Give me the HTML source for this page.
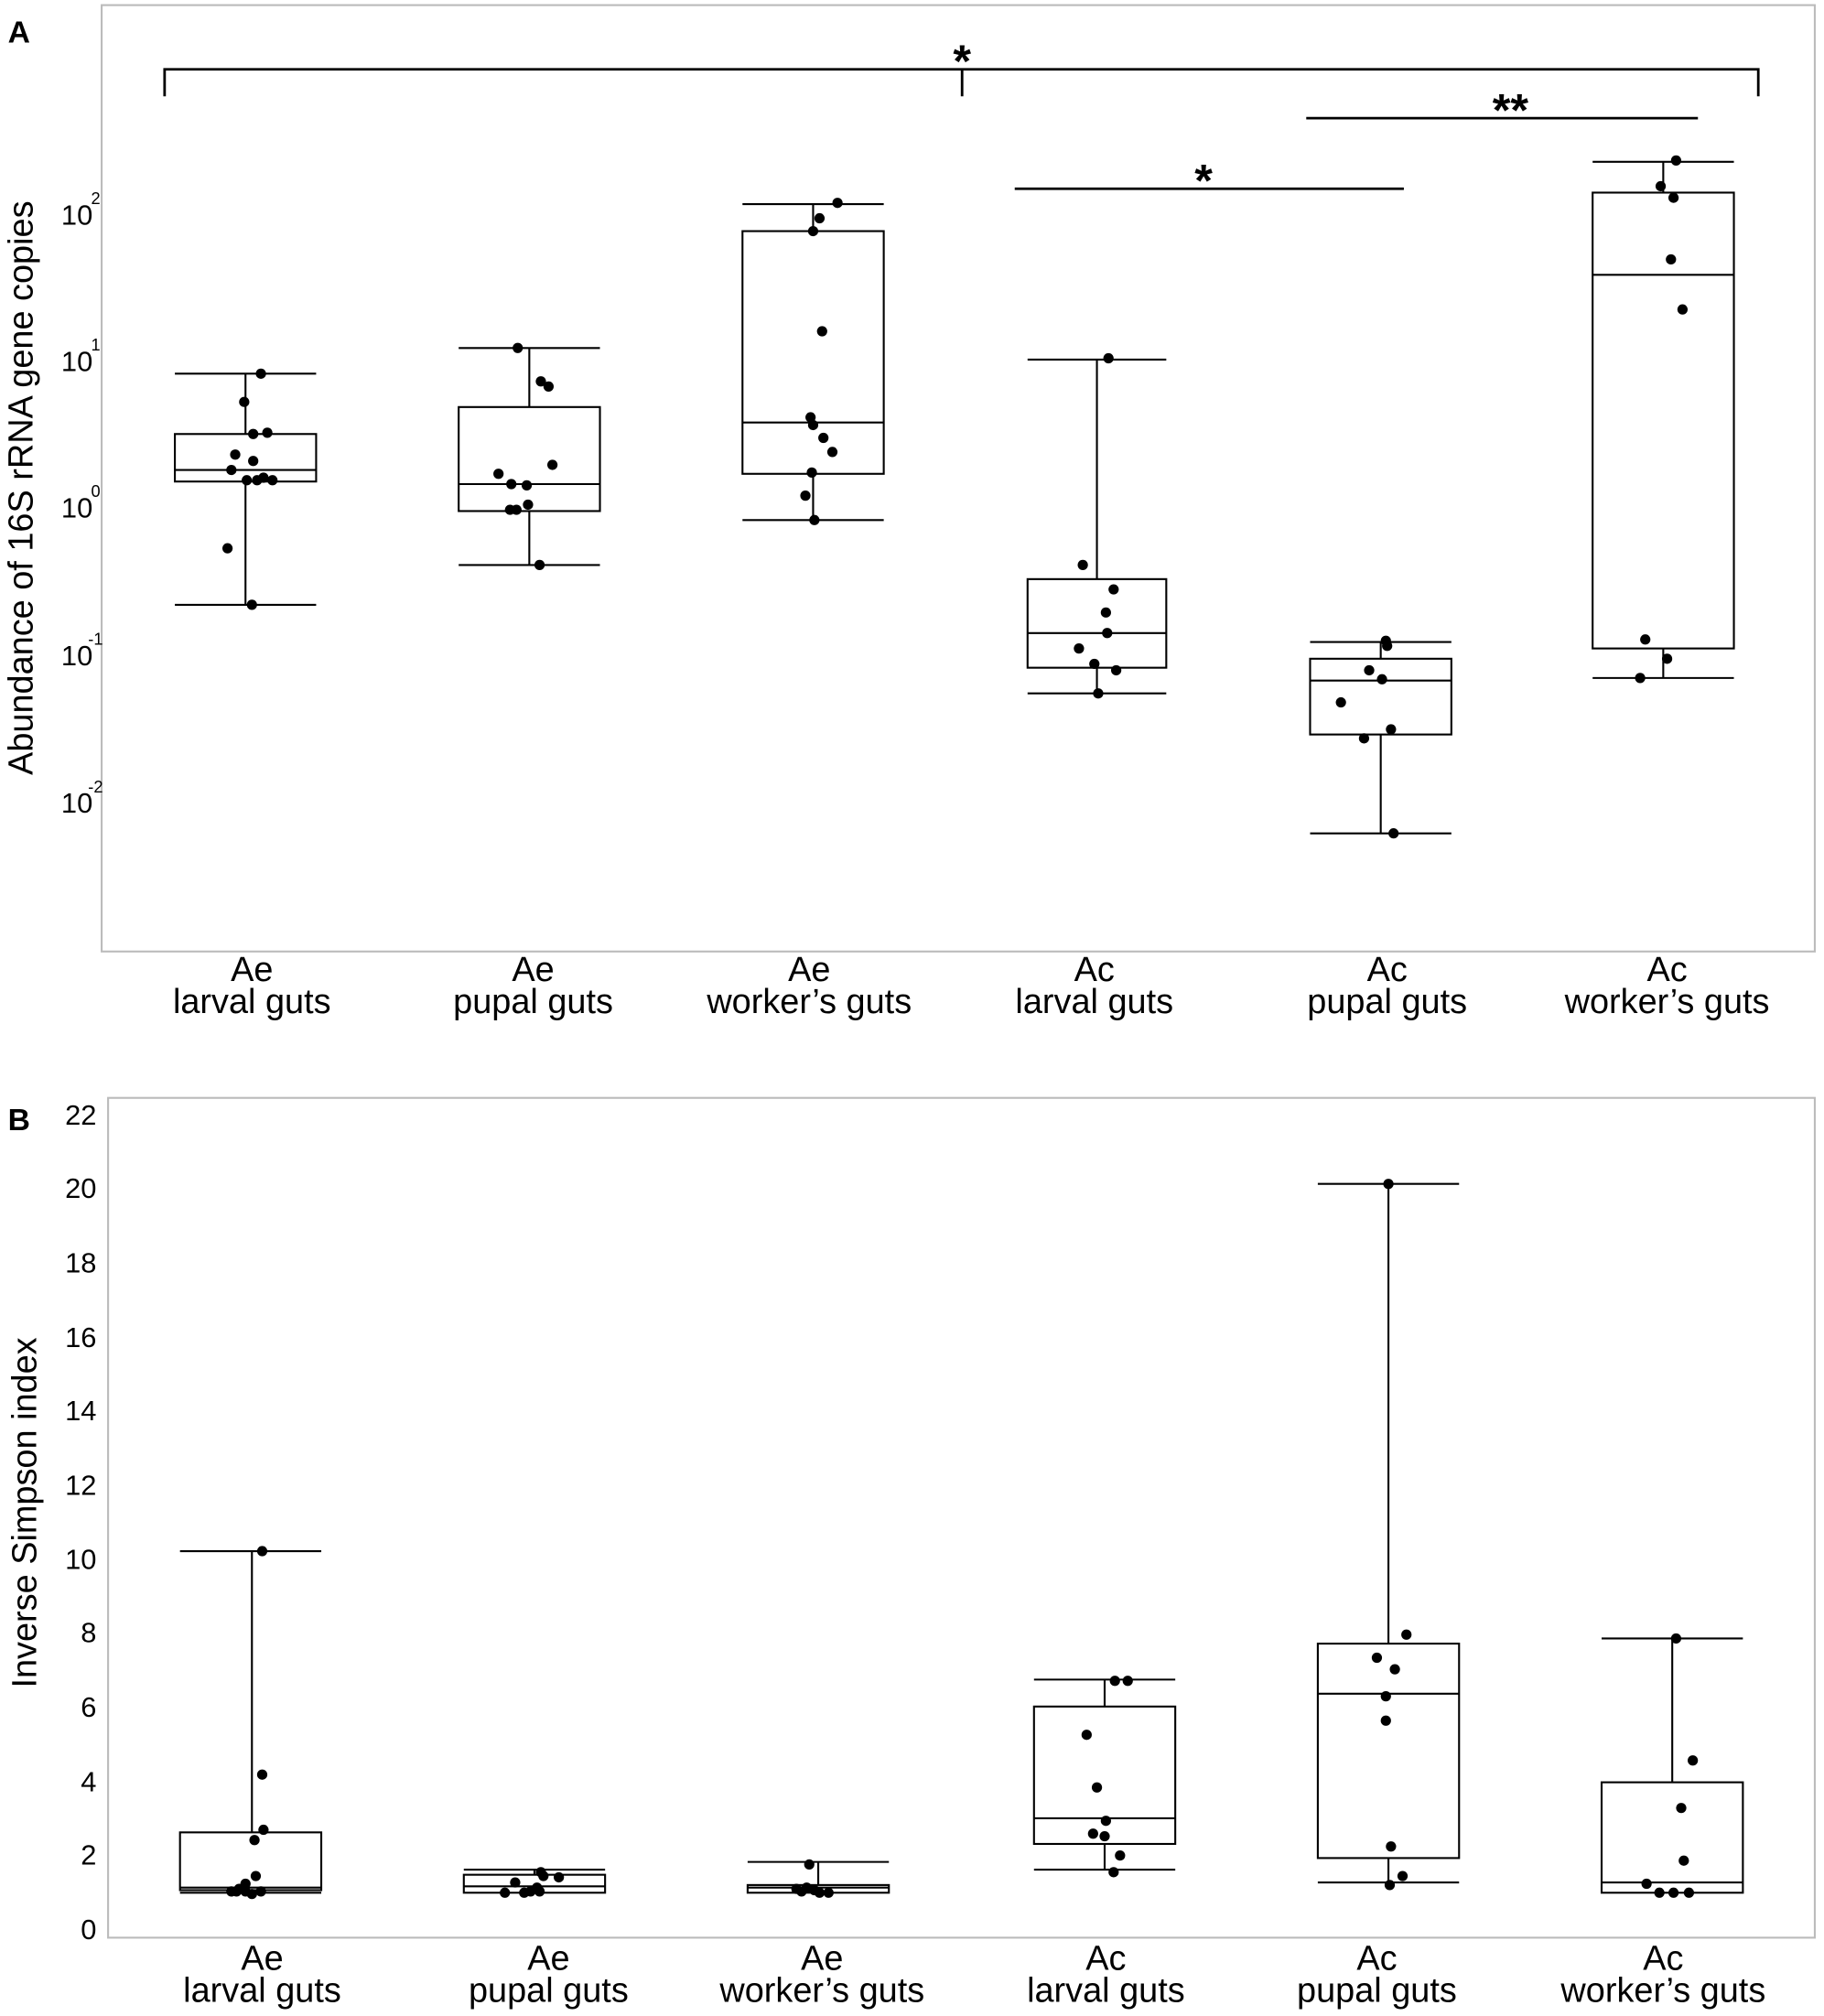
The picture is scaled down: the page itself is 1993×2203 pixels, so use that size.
<!DOCTYPE html>
<html><head><meta charset="utf-8"><style>html,body{margin:0;padding:0;background:#fff}svg{display:block}</style></head>
<body>
<svg width="1993" height="2203" viewBox="0 0 1420 1570" xmlns="http://www.w3.org/2000/svg" font-family="Liberation Sans, sans-serif">
<rect x="0" y="0" width="1420" height="1570" fill="#fff"/>
<!-- Panel A -->
<text x="6" y="33" font-size="24" font-weight="bold">A</text>
<rect x="79" y="4" width="1334" height="737" fill="none" stroke="#bbb" stroke-width="1.5"/>
<g font-size="22" text-anchor="end">
<text x="72" y="175">10</text><text x="78" y="159" font-size="13">2</text>
<text x="72" y="289">10</text><text x="78" y="273" font-size="13">1</text>
<text x="72" y="403">10</text><text x="78" y="387" font-size="13">0</text>
<text x="72" y="518">10</text><text x="80" y="502" font-size="13">-1</text>
<text x="72" y="633">10</text><text x="80" y="617" font-size="13">-2</text>
</g>
<text transform="translate(25,380) rotate(-90)" font-size="27" text-anchor="middle">Abundance of 16S rRNA gene copies</text>
<g stroke="#000" stroke-width="2" fill="none">
<path d="M128 75V54H1369V75M749 54V75"/>
<path d="M790 147H1093M1017 92H1322"/>
</g>
<g font-size="36" text-anchor="middle" font-weight="bold">
<text x="749" y="60">*</text><text x="937" y="153">*</text><text x="1176" y="98">**</text>
</g>
<g stroke="#000" stroke-width="1.5" fill="none">
<!-- Ae larval -->
<path d="M136 291H246M136 471H246M191 291V338M191 375V471M136 366H246"/><rect x="136" y="338" width="110" height="37"/>
<path d="M357 271H467M357 440H467M412 271V317M412 398V440M357 377H467"/><rect x="357" y="317" width="110" height="81"/>
<path d="M578 159H688M578 405H688M633 159V180M633 369V405M578 329H688"/><rect x="578" y="180" width="110" height="189"/>
<path d="M800 280H908M800 540H908M854 280V451M854 520V540M800 493H908"/><rect x="800" y="451" width="108" height="69"/>
<path d="M1020 500H1130M1020 649H1130M1075 500V513M1075 572V649M1020 530H1130"/><rect x="1020" y="513" width="110" height="59"/>
<path d="M1240 126H1350M1240 528H1350M1295 126V150M1295 505V528M1240 214H1350"/><rect x="1240" y="150" width="110" height="355"/>
</g>
<g fill="#000">
<circle cx="203" cy="291" r="4"/><circle cx="190" cy="313" r="4"/><circle cx="208" cy="337" r="4"/><circle cx="197" cy="338" r="4"/><circle cx="183" cy="354" r="4"/><circle cx="197" cy="359" r="4"/><circle cx="180" cy="366" r="4"/><circle cx="205" cy="372" r="4"/><circle cx="192" cy="374" r="4"/><circle cx="212" cy="374" r="4"/><circle cx="200" cy="374" r="4"/><circle cx="177" cy="427" r="4"/><circle cx="196" cy="471" r="4"/>
<circle cx="403" cy="271" r="4"/><circle cx="421" cy="297" r="4"/><circle cx="427" cy="301" r="4"/><circle cx="388" cy="369" r="4"/><circle cx="430" cy="362" r="4"/><circle cx="398" cy="377" r="4"/><circle cx="410" cy="378" r="4"/><circle cx="411" cy="393" r="4"/><circle cx="397" cy="397" r="4"/><circle cx="402" cy="397" r="4"/><circle cx="420" cy="440" r="4"/>
<circle cx="652" cy="158" r="4"/><circle cx="638" cy="170" r="4"/><circle cx="633" cy="180" r="4"/><circle cx="640" cy="258" r="4"/><circle cx="631" cy="325" r="4"/><circle cx="633" cy="331" r="4"/><circle cx="641" cy="341" r="4"/><circle cx="648" cy="352" r="4"/><circle cx="632" cy="368" r="4"/><circle cx="627" cy="386" r="4"/><circle cx="634" cy="405" r="4"/>
<circle cx="863" cy="279" r="4"/><circle cx="843" cy="440" r="4"/><circle cx="867" cy="459" r="4"/><circle cx="861" cy="477" r="4"/><circle cx="862" cy="493" r="4"/><circle cx="840" cy="505" r="4"/><circle cx="852" cy="517" r="4"/><circle cx="869" cy="522" r="4"/><circle cx="855" cy="540" r="4"/>
<circle cx="1079" cy="499" r="4"/><circle cx="1080" cy="503" r="4"/><circle cx="1066" cy="522" r="4"/><circle cx="1076" cy="529" r="4"/><circle cx="1044" cy="547" r="4"/><circle cx="1083" cy="568" r="4"/><circle cx="1062" cy="575" r="4"/><circle cx="1085" cy="649" r="4"/>
<circle cx="1305" cy="125" r="4"/><circle cx="1293" cy="145" r="4"/><circle cx="1303" cy="154" r="4"/><circle cx="1301" cy="202" r="4"/><circle cx="1310" cy="241" r="4"/><circle cx="1281" cy="498" r="4"/><circle cx="1298" cy="513" r="4"/><circle cx="1277" cy="528" r="4"/>
</g>
<g font-size="27" text-anchor="middle">
<text x="196" y="764">Ae</text><text x="196" y="789">larval guts</text>
<text x="415" y="764">Ae</text><text x="415" y="789">pupal guts</text>
<text x="630" y="764">Ae</text><text x="630" y="789">worker’s guts</text>
<text x="852" y="764">Ac</text><text x="852" y="789">larval guts</text>
<text x="1080" y="764">Ac</text><text x="1080" y="789">pupal guts</text>
<text x="1298" y="764">Ac</text><text x="1298" y="789">worker’s guts</text>
</g>
<!-- Panel B -->
<text x="6" y="880" font-size="24" font-weight="bold">B</text>
<rect x="84" y="855" width="1329" height="654" fill="none" stroke="#bbb" stroke-width="1.5"/>
<g font-size="22" text-anchor="end">
<text x="75" y="1510">0</text><text x="75" y="1452">2</text><text x="75" y="1395">4</text><text x="75" y="1337">6</text><text x="75" y="1279">8</text><text x="75" y="1222">10</text><text x="75" y="1164">12</text><text x="75" y="1106">14</text><text x="75" y="1049">16</text><text x="75" y="991">18</text><text x="75" y="933">20</text><text x="75" y="876">22</text>
</g>
<text transform="translate(28,1178) rotate(-90)" font-size="27" text-anchor="middle">Inverse Simpson index</text>
<g stroke="#000" stroke-width="1.5" fill="none">
<path d="M140 1208H250M196 1208V1427M140 1470H250"/><rect x="140" y="1427" width="110" height="45"/><path d="M140 1474H250"/>
<path d="M361 1456H471M416 1456V1460M361 1469H471"/><rect x="361" y="1460" width="110" height="14"/>
<path d="M582 1450H692M637 1450V1468"/><rect x="582" y="1468" width="110" height="6"/><path d="M582 1470H692"/>
<path d="M805 1308H915M860 1308V1329M860 1436V1456M805 1456H915M805 1416H915"/><rect x="805" y="1329" width="110" height="107"/>
<path d="M1026 922H1136M1081 922V1280M1081 1447V1466M1026 1466H1136M1026 1319H1136"/><rect x="1026" y="1280" width="110" height="167"/>
<path d="M1247 1276H1357M1302 1276V1388"/><rect x="1247" y="1388" width="110" height="86"/><path d="M1247 1466H1357"/>
</g>
<g fill="#000">
<circle cx="204" cy="1208" r="4"/><circle cx="204" cy="1382" r="4"/><circle cx="205" cy="1425" r="4"/><circle cx="198" cy="1433" r="4"/><circle cx="199" cy="1461" r="4"/><circle cx="191" cy="1467" r="4"/><circle cx="186" cy="1471" r="4"/><circle cx="184" cy="1473" r="4"/><circle cx="191" cy="1473" r="4"/><circle cx="196" cy="1475" r="4"/><circle cx="203" cy="1473" r="4"/><circle cx="180" cy="1473" r="4"/>
<circle cx="421" cy="1458" r="4"/><circle cx="423" cy="1461" r="4"/><circle cx="435" cy="1462" r="4"/><circle cx="401" cy="1466" r="4"/><circle cx="418" cy="1470" r="4"/><circle cx="413" cy="1473" r="4"/><circle cx="420" cy="1473" r="4"/><circle cx="393" cy="1474" r="4"/><circle cx="408" cy="1474" r="4"/>
<circle cx="630" cy="1452" r="4"/><circle cx="620" cy="1471" r="4"/><circle cx="628" cy="1470" r="4"/><circle cx="634" cy="1472" r="4"/><circle cx="638" cy="1474" r="4"/><circle cx="624" cy="1473" r="4"/><circle cx="645" cy="1474" r="4"/>
<circle cx="868" cy="1309" r="4"/><circle cx="878" cy="1309" r="4"/><circle cx="846" cy="1351" r="4"/><circle cx="854" cy="1392" r="4"/><circle cx="861" cy="1418" r="4"/><circle cx="851" cy="1428" r="4"/><circle cx="860" cy="1430" r="4"/><circle cx="872" cy="1445" r="4"/><circle cx="867" cy="1458" r="4"/>
<circle cx="1081" cy="922" r="4"/><circle cx="1095" cy="1273" r="4"/><circle cx="1072" cy="1291" r="4"/><circle cx="1086" cy="1300" r="4"/><circle cx="1079" cy="1321" r="4"/><circle cx="1079" cy="1340" r="4"/><circle cx="1083" cy="1438" r="4"/><circle cx="1092" cy="1461" r="4"/><circle cx="1082" cy="1468" r="4"/>
<circle cx="1305" cy="1276" r="4"/><circle cx="1318" cy="1371" r="4"/><circle cx="1309" cy="1408" r="4"/><circle cx="1311" cy="1449" r="4"/><circle cx="1282" cy="1467" r="4"/><circle cx="1292" cy="1474" r="4"/><circle cx="1303" cy="1474" r="4"/><circle cx="1315" cy="1474" r="4"/>
</g>
<g font-size="27" text-anchor="middle">
<text x="204" y="1534">Ae</text><text x="204" y="1559">larval guts</text>
<text x="427" y="1534">Ae</text><text x="427" y="1559">pupal guts</text>
<text x="640" y="1534">Ae</text><text x="640" y="1559">worker’s guts</text>
<text x="861" y="1534">Ac</text><text x="861" y="1559">larval guts</text>
<text x="1072" y="1534">Ac</text><text x="1072" y="1559">pupal guts</text>
<text x="1295" y="1534">Ac</text><text x="1295" y="1559">worker’s guts</text>
</g>
</svg>
</body></html>
